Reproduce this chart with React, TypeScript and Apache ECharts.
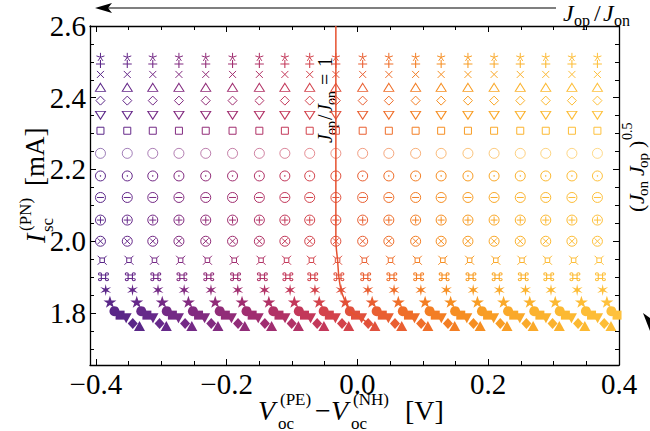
import React, { useEffect, useRef } from 'react';
import * as echarts from 'echarts';

// Open-circuit voltage difference of each J_op/J_on column (top of the column)
const columnV = [
  -0.393, -0.352, -0.313, -0.273, -0.232, -0.191, -0.15, -0.111, -0.073, -0.033,
  0.008, 0.048, 0.089, 0.128, 0.169, 0.209, 0.249, 0.288, 0.328, 0.367,
];
// Short-circuit current for each (J_on J_op)^0.5 level (one marker per level)
const markerIsc = [
  2.514, 2.494, 2.465, 2.429, 2.392, 2.351, 2.308, 2.245, 2.182, 2.122, 2.059,
  2.0, 1.947, 1.901, 1.864, 1.831, 1.805, 1.794, 1.785, 1.771, 1.764,
];
// Extra voltage shift of the low-current levels
const markerShift = [
  0, 0, 0, 0, 0, 0, 0, 0, 0, 0, 0, 0, 0.0026, 0.0046, 0.008, 0.0145, 0.0214,
  0.03, 0.0393, 0.0494, 0.0597,
];
// Column where J_op/J_on = 1 and the current at which that curve starts
const unityColumn = 9;
const unityTopIsc = 2.6;

const xMajorTicks = [-0.4, -0.2, 0, 0.2, 0.4];
const xMinorTicks = [-0.35, -0.3, -0.25, -0.15, -0.1, -0.05, 0.05, 0.1, 0.15, 0.25, 0.3, 0.35];
const yMajorTicks = [1.8, 2.0, 2.2, 2.4, 2.6];
const yMinorTicks = [1.7, 1.75, 1.85, 1.9, 1.95, 2.05, 2.1, 2.15, 2.25, 2.3, 2.35, 2.45, 2.5, 2.55];

const columnColors = [
  '#5a2788', '#66298a', '#742a86', '#822b80', '#912c78', '#a02e70', '#b13266',
  '#c3385a', '#d3434c', '#e0513e', '#e95f32', '#ef6e29', '#f37e24', '#f68e22',
  '#f89d25', '#faa92a', '#fbb22e', '#fcb932', '#fdbd37', '#fec13d',
];
const unityColor = '#e6512e';

const SERIF = 'Liberation Serif, Times New Roman, serif';

const CIRCLE = 'M0 10A10 10 0 1 0 20 10A10 10 0 1 0 0 10Z';

type Marker = { symbol: string; size: number[]; mode: 'stroke' | 'fill'; opacity?: number };

const markers: Marker[] = [
  { symbol: 'path://M10 10L10 0M10 10L19.51 6.91M10 10L15.88 18.09M10 10L4.12 18.09M10 10L0.49 6.91', size: [8, 8], mode: 'stroke' },
  { symbol: 'path://M10 0L10 20M0 10L20 10', size: [9, 8], mode: 'stroke' },
  { symbol: 'path://M0 0L20 20M20 0L0 20', size: [7, 7], mode: 'stroke' },
  { symbol: 'path://M10 0L20 17.3L0 17.3Z', size: [10, 8], mode: 'stroke' },
  { symbol: 'path://M10 0L20 10L10 20L0 10Z', size: [9, 9], mode: 'stroke' },
  { symbol: 'path://M0 0L20 0L10 17.3Z', size: [10, 8], mode: 'stroke' },
  { symbol: 'path://M0 0L20 0L20 20L0 20Z', size: [7, 7], mode: 'stroke' },
  { symbol: 'path://' + CIRCLE, size: [10, 10], mode: 'stroke', opacity: 0.6 },
  { symbol: 'path://' + CIRCLE + 'M9.2 10A0.8 0.8 0 1 0 10.8 10A0.8 0.8 0 1 0 9.2 10Z', size: [10, 10], mode: 'stroke' },
  { symbol: 'path://' + CIRCLE + 'M3 10L17 10', size: [10, 10], mode: 'stroke' },
  { symbol: 'path://' + CIRCLE + 'M3 10L17 10M10 3L10 17', size: [10, 10], mode: 'stroke' },
  { symbol: 'path://' + CIRCLE + 'M4.3 4.3L15.7 15.7M15.7 4.3L4.3 15.7', size: [10, 10], mode: 'stroke' },
  { symbol: 'path://M5 5L15 5L15 15L5 15ZM0 0L5 5M20 0L15 5M20 20L15 15M0 20L5 15', size: [9, 9], mode: 'stroke' },
  {
    symbol:
      'path://M6 6L14 6L14 14L6 14Z' +
      'M0.7 3.5A2.8 2.8 0 1 0 6.3 3.5A2.8 2.8 0 1 0 0.7 3.5Z' +
      'M13.7 3.5A2.8 2.8 0 1 0 19.3 3.5A2.8 2.8 0 1 0 13.7 3.5Z' +
      'M0.7 16.5A2.8 2.8 0 1 0 6.3 16.5A2.8 2.8 0 1 0 0.7 16.5Z' +
      'M13.7 16.5A2.8 2.8 0 1 0 19.3 16.5A2.8 2.8 0 1 0 13.7 16.5Z',
    size: [10, 8],
    mode: 'stroke',
  },
  { symbol: 'path://M10 0L11.5 7.4L18.66 5L13 10L18.66 15L11.5 12.6L10 20L8.5 12.6L1.34 15L7 10L1.34 5L8.5 7.4Z', size: [11, 12], mode: 'fill' },
  { symbol: 'path://M10 0L12.25 6.91L19.51 6.91L13.63 11.18L15.88 18.09L10 13.82L4.12 18.09L6.37 11.18L0.49 6.91L7.75 6.91Z', size: [13, 12], mode: 'fill' },
  { symbol: 'circle', size: [10, 10], mode: 'fill' },
  { symbol: 'rect', size: [9, 9], mode: 'fill' },
  { symbol: 'path://M0 0L20 0L10 17.3Z', size: [11, 10], mode: 'fill' },
  { symbol: 'diamond', size: [10, 11], mode: 'fill' },
  { symbol: 'triangle', size: [11, 10], mode: 'fill' },
];

const fmt = (v: number) => (v < 0 ? '\u2212' : '') + Math.abs(v).toFixed(1);

const axisLineStyle = { color: '#000', width: 1.3 };

function xAxisOf(position: 'top' | 'bottom', ticks: number[], len: number, labels: boolean, line: boolean) {
  return {
    type: 'value',
    min: -0.409,
    max: 0.4,
    position,
    axisLine: { show: line, onZero: false, lineStyle: axisLineStyle },
    axisTick: { show: true, inside: true, length: len, customValues: ticks, lineStyle: { color: '#000', width: 1 } },
    axisLabel: labels
      ? { show: true, customValues: xMajorTicks, formatter: fmt, margin: 4, color: '#000', fontSize: 29, fontFamily: SERIF }
      : { show: false },
    splitLine: { show: false },
  };
}

function yAxisOf(position: 'left' | 'right', ticks: number[], len: number, labels: boolean, line: boolean) {
  return {
    type: 'value',
    min: 1.655,
    max: 2.6,
    position,
    axisLine: { show: line, onZero: false, lineStyle: axisLineStyle },
    axisTick: { show: true, inside: true, length: len, customValues: ticks, lineStyle: { color: '#000', width: 1 } },
    axisLabel: labels
      ? { show: true, customValues: yMajorTicks, formatter: fmt, margin: 4, color: '#000', fontSize: 29, fontFamily: SERIF }
      : { show: false },
    splitLine: { show: false },
  };
}

function txt(text: string, x: number, y: number, size: number, italic = false) {
  return {
    type: 'text',
    x,
    y,
    silent: true,
    style: {
      text,
      fill: '#000',
      fontSize: size,
      fontFamily: SERIF,
      fontStyle: italic ? 'italic' : 'normal',
      textAlign: 'left',
      textVerticalAlign: 'middle',
      align: 'left',
      verticalAlign: 'middle',
    },
  };
}

export default function App() {
  const ref = useRef<HTMLDivElement>(null);

  useEffect(() => {
    if (!ref.current) return;
    const chart = echarts.init(ref.current, undefined, { renderer: 'svg' });

    const scatterSeries = markers.map((m, mi) => ({
      type: 'scatter',
      symbol: m.symbol,
      symbolSize: m.size,
      symbolKeepAspect: false,
      silent: true,
      z: 2,
      data: columnV.map((v, c) => ({
        value: [v + markerShift[mi], markerIsc[mi]],
        itemStyle:
          m.mode === 'fill'
            ? { color: columnColors[c], borderWidth: 0, opacity: 1 }
            : { color: 'rgba(0,0,0,0)', borderColor: columnColors[c], borderWidth: 1, opacity: m.opacity ?? 1 },
      })),
    }));

    const unityLine = [
      [columnV[unityColumn], unityTopIsc],
      ...markerIsc.map((y, i) => [columnV[unityColumn] + markerShift[i], y]),
    ];

    chart.setOption({
      animation: false,
      grid: { left: 90, right: 31, top: 26, bottom: 66 },
      xAxis: [
        xAxisOf('bottom', xMajorTicks, 6, true, true),
        xAxisOf('top', xMajorTicks, 6, false, true),
        xAxisOf('bottom', xMinorTicks, 4, false, false),
        xAxisOf('top', xMinorTicks, 4, false, false),
      ],
      yAxis: [
        yAxisOf('left', yMajorTicks, 6, true, true),
        yAxisOf('right', yMajorTicks, 6, false, true),
        yAxisOf('left', yMinorTicks, 4, false, false),
        yAxisOf('right', yMinorTicks, 4, false, false),
      ],
      series: [
        ...scatterSeries,
        {
          type: 'line',
          data: unityLine,
          smooth: 0.3,
          showSymbol: false,
          silent: true,
          z: 3,
          lineStyle: { color: unityColor, width: 1.5 },
        },
      ],
      graphic: [
        // x-axis title
        txt('V', 258, 410, 28, true),
        txt('(PE)', 280, 399, 17),
        txt('oc', 278, 423, 17),
        txt('\u2212', 315, 410, 28),
        txt('V', 331, 410, 28, true),
        txt('(NH)', 353, 399, 17),
        txt('oc', 351, 423, 17),
        txt('[V]', 405, 410, 28),
        // y-axis title
        {
          type: 'group',
          x: 35,
          y: 243,
          rotation: Math.PI / 2,
          children: [
            txt('I', 0, 0, 28, true),
            txt('(PN)', 12, -10, 17),
            txt('sc', 11, 12, 17),
            txt('[mA]', 57, 0, 27),
          ],
        },
        // right-hand label
        {
          type: 'group',
          x: 636,
          y: 212,
          rotation: Math.PI / 2,
          children: [
            txt('(', 0, 0, 22),
            txt('J', 8, 0, 22, true),
            txt('on', 16, 7, 15),
            txt('J', 36, 0, 22, true),
            txt('op', 44, 7, 15),
            txt(')', 64, 0, 22),
            txt('0.5', 72, -9, 14),
          ],
        },
        // J_op/J_on = 1 label on the unity curve
        {
          type: 'group',
          x: 325,
          y: 143,
          rotation: Math.PI / 2,
          children: [
            txt('J', 0, 0, 20, true),
            txt('op', 8, 6, 14),
            txt('/', 23, 0, 20),
            txt('J', 30, 0, 20, true),
            txt('on', 38, 6, 14),
            txt('=', 58, 0, 20),
            txt('1', 76, 0, 20),
          ],
        },
        // top arrow and its label
        {
          type: 'line',
          silent: true,
          shape: { x1: 556, y1: 8, x2: 104, y2: 8 },
          style: { stroke: '#000', lineWidth: 1.2 },
        },
        {
          type: 'polygon',
          silent: true,
          shape: { points: [[95, 8], [112, 3], [108, 8], [112, 13]] },
          style: { fill: '#000' },
        },
        txt('J', 563, 13, 24, true),
        txt('op', 574, 20, 16),
        txt('/', 594, 13, 24),
        txt('J', 603, 13, 24, true),
        txt('on', 614, 20, 16),
        // arrow head at the right edge
        {
          type: 'polygon',
          silent: true,
          shape: { points: [[650, 331], [643, 313], [650, 318]] },
          style: { fill: '#000' },
        },
      ],
    });

    return () => chart.dispose();
  }, []);

  return <div ref={ref} style={{ width: 650, height: 431, position: 'absolute', left: 0, top: 0 }} />;
}
